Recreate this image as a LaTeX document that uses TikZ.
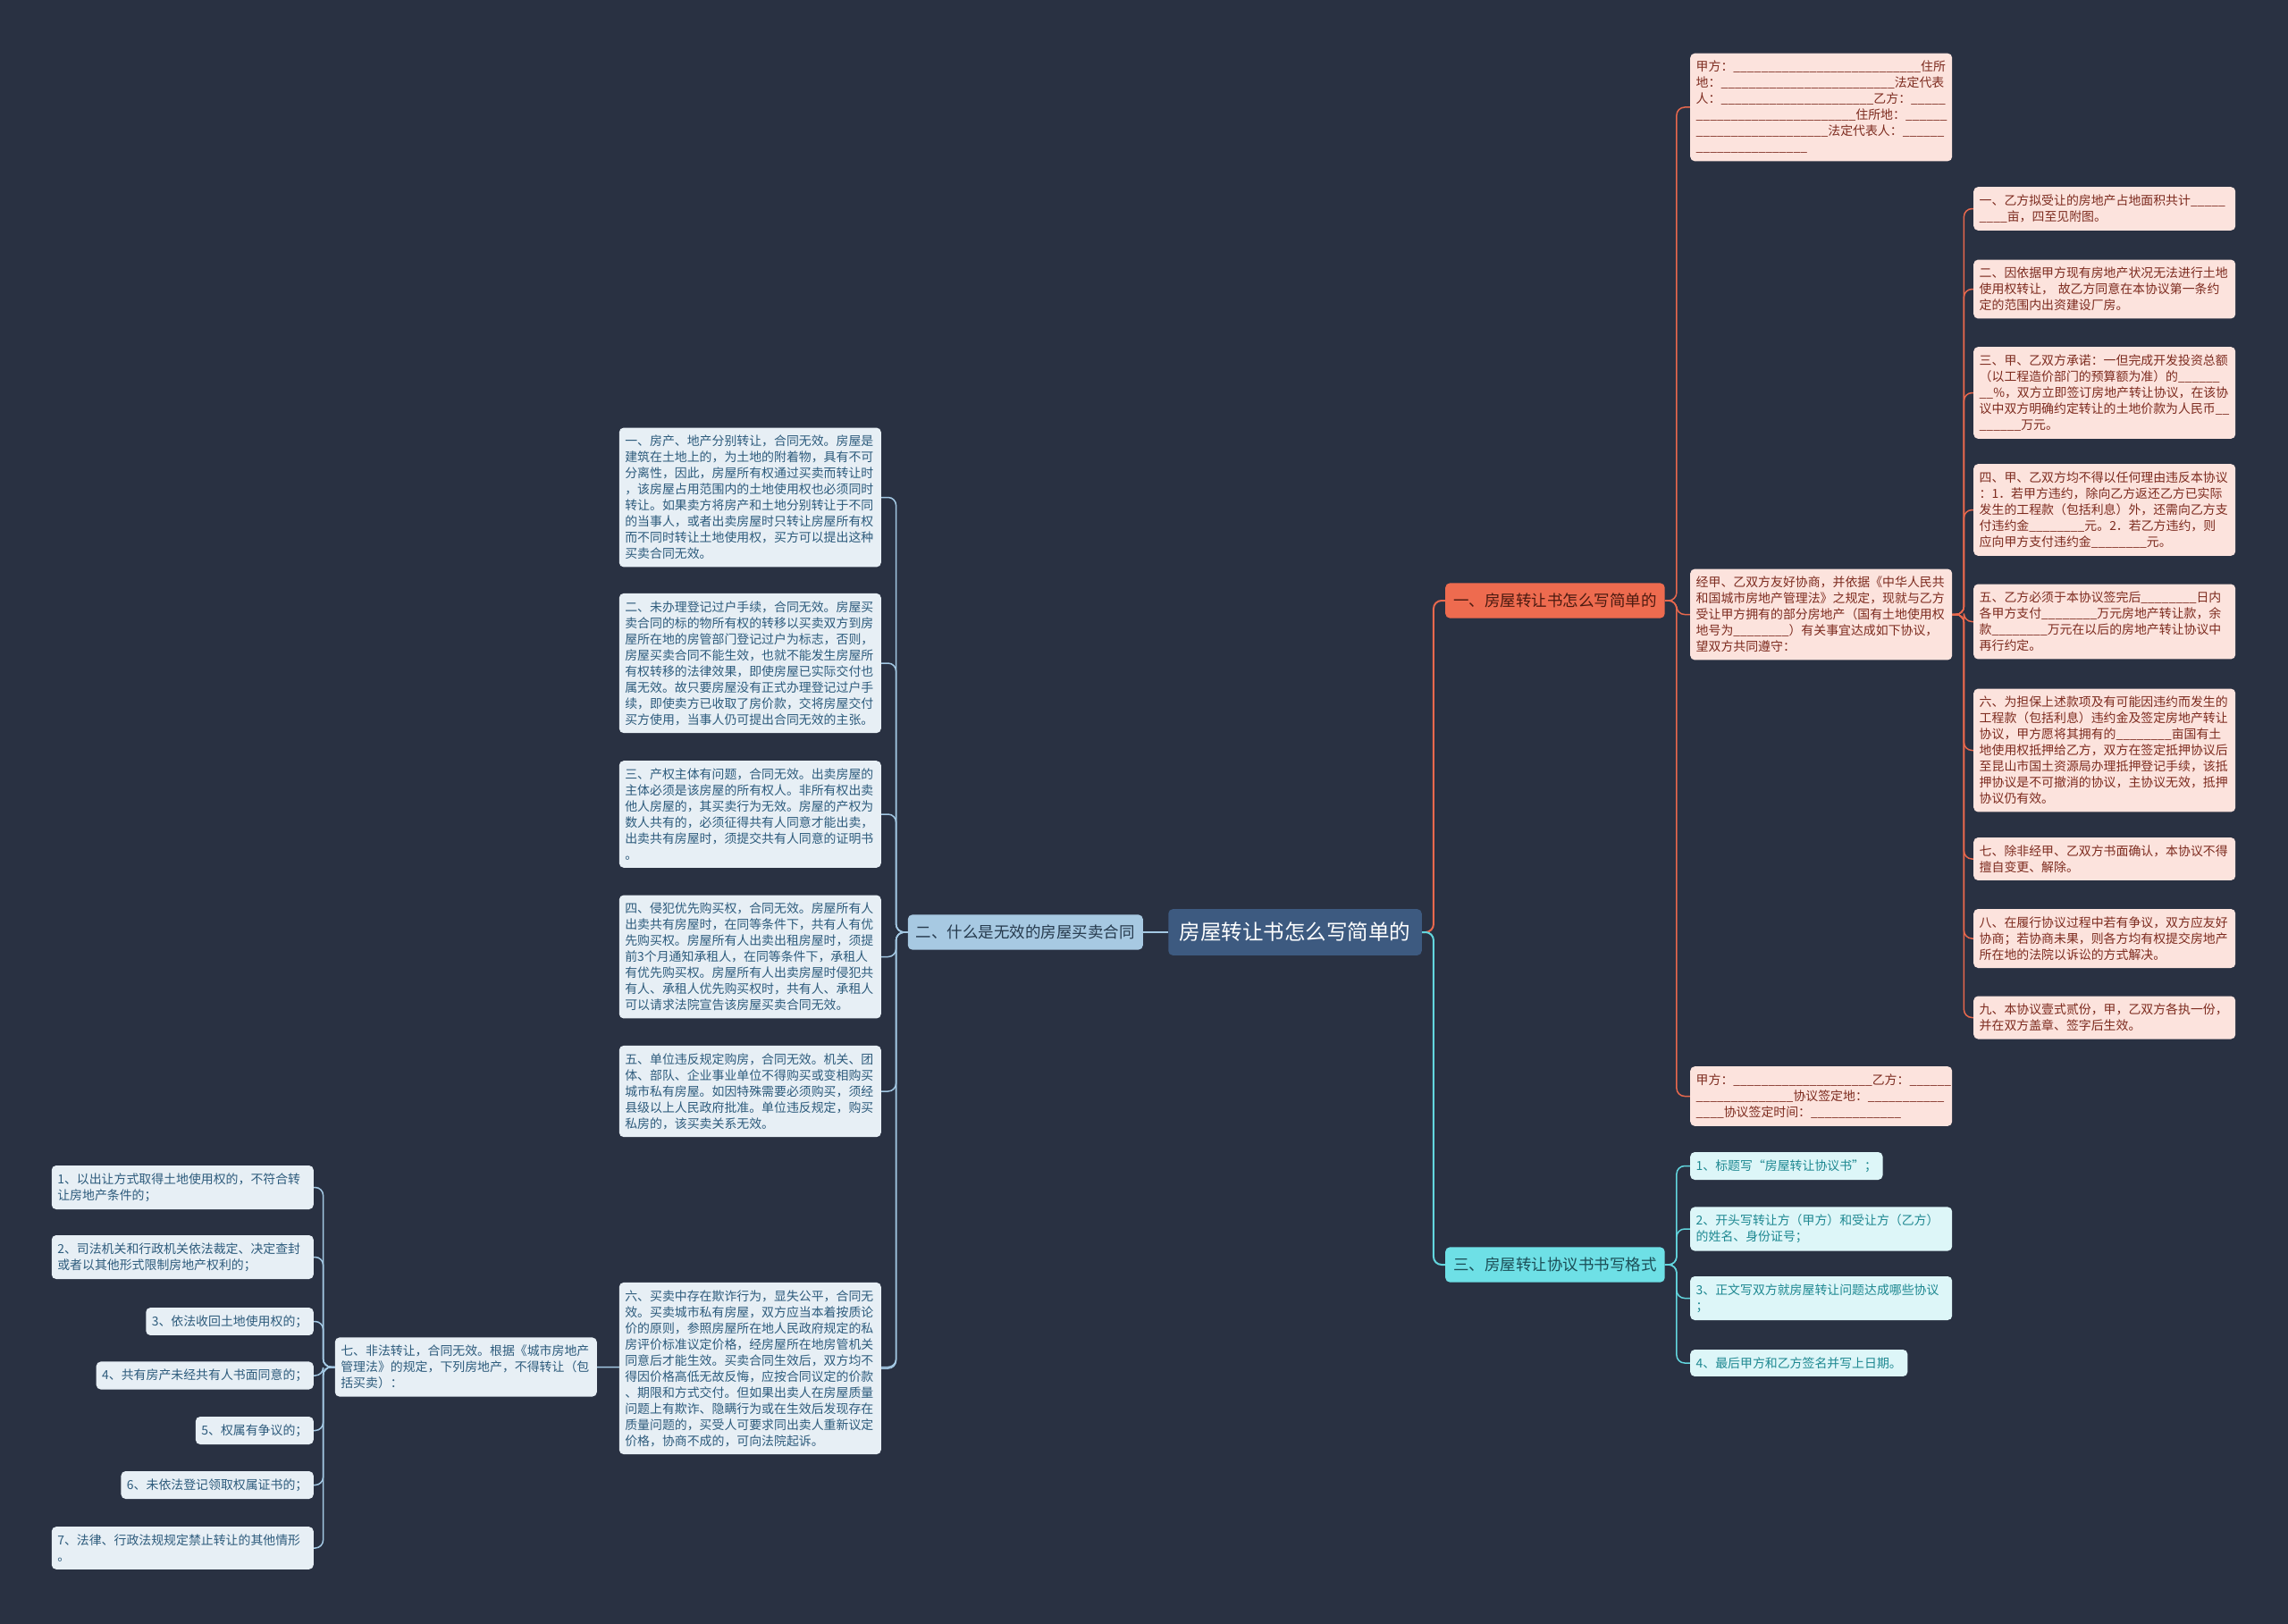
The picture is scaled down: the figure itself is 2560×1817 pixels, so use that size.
\documentclass[tikz,border=0pt]{standalone}
\usepackage{fontspec}
\setmainfont{Noto Sans CJK SC}
\usetikzlibrary{positioning,calc}
\definecolor{bgcol}{HTML}{293142}
\definecolor{rootcol}{HTML}{3D5A80}
\definecolor{redmain}{HTML}{EE6B4F}
\definecolor{redmaintext}{HTML}{4A1A10}
\definecolor{redfill}{HTML}{FCE3DD}
\definecolor{redtext}{HTML}{7D2B1F}
\definecolor{redwire}{HTML}{E8684D}
\definecolor{cyanmain}{HTML}{6EE0E6}
\definecolor{cyanmaintext}{HTML}{1C4E57}
\definecolor{cyanfill}{HTML}{DDF6F8}
\definecolor{cyantext}{HTML}{1E8891}
\definecolor{cyanwire}{HTML}{62D6DE}
\definecolor{bluemain}{HTML}{A7C9E2}
\definecolor{bluemaintext}{HTML}{263A4D}
\definecolor{bluefill}{HTML}{E7EFF5}
\definecolor{bluetext}{HTML}{2D5B7C}
\definecolor{bluewire}{HTML}{A3C8E3}
\pgfdeclarelayer{bg}
\pgfdeclarelayer{wires}
\pgfsetlayers{bg,wires,main}
\ExplSyntaxOn
\cs_new:Npn \blank #1 { \prg_replicate:nn {#1} { \textunderscore } }
\ExplSyntaxOff

\begin{document}
\begin{tikzpicture}[
  x=1pt, y=-1pt,
  rootbox/.style={fill=rootcol, text=white, rounded corners=5pt, font=\fontsize{23.5pt}{28pt}\selectfont, inner xsep=12.5pt, inner ysep=15pt},
  mainbox/.style={rounded corners=5pt, font=\fontsize{17.5pt}{21pt}\selectfont, inner xsep=9pt, inner ysep=11.5pt},
  leaf/.style={rounded corners=5pt, font=\fontsize{13.9pt}{18pt}\selectfont, inner xsep=6.5pt, inner ysep=8.5pt, align=left},
  widebox/.style={text width=280pt},
  redleaf/.style={leaf, fill=redfill, text=redtext},
  cyanleaf/.style={leaf, fill=cyanfill, text=cyantext},
  blueleaf/.style={leaf, fill=bluefill, text=bluetext},
  wire/.style={rounded corners=9pt, line width=1.5pt},
  mainwire/.style={rounded corners=9pt, line width=2pt}
]
\useasboundingbox (0,0) rectangle (2560,1817);
\begin{pgfonlayer}{bg}
\fill[bgcol] (0,0) rectangle (2560,1817);
\end{pgfonlayer}

% centre and main topics
\node[rootbox] (root) at (1449,1043) {房屋转让书怎么写简单的};
\node[mainbox, fill=redmain, text=redmaintext, anchor=west] (s1) at (1617,672) {一、房屋转让书怎么写简单的};
\node[mainbox, fill=bluemain, text=bluemaintext, anchor=east] (s2) at (1279,1043) {二、什么是无效的房屋买卖合同};
\node[mainbox, fill=cyanmain, text=cyanmaintext, anchor=west] (s3) at (1617,1415) {三、房屋转让协议书书写格式};

% branch one
\node[redleaf, widebox, anchor=west] (a1) at (1891,120) {甲方：\blank{27}住所\\地：\blank{25}法定代表\\人：\blank{22}乙方：\blank{5}\\\blank{23}住所地：\blank{6}\\\blank{19}法定代表人：\blank{6}\\\blank{16}};
\node[redleaf, widebox, anchor=west] (a2) at (1891,687.5) {经甲、乙双方友好协商，并依据《中华人民共\\和国城市房地产管理法》之规定，现就与乙方\\受让甲方拥有的部分房地产（国有土地使用权\\地号为\blank{8}）有关事宜达成如下协议，\\望双方共同遵守：};
\node[redleaf, widebox, anchor=west] (a3) at (1891,1226.5) {甲方：\blank{20}乙方：\blank{6}\\\blank{14}协议签定地：\blank{11}\\\blank{4}协议签定时间：\blank{13}};

\node[redleaf, widebox, anchor=west] (b1) at (2208,233.5) {一、乙方拟受让的房地产占地面积共计\blank{5}\\\blank{4}亩，四至见附图。};
\node[redleaf, widebox, anchor=west] (b2) at (2208,323.5) {二、因依据甲方现有房地产状况无法进行土地\\使用权转让， 故乙方同意在本协议第一条约\\定的范围内出资建设厂房。};
\node[redleaf, widebox, anchor=west] (b3) at (2208,439.5) {三、甲、乙双方承诺：一但完成开发投资总额\\（以工程造价部门的预算额为准）的\blank{6}\\\blank{2}\%，双方立即签订房地产转让协议，在该协\\议中双方明确约定转让的土地价款为人民币\blank{2}\\\blank{6}万元。};
\node[redleaf, widebox, anchor=west] (b4) at (2208,570.5) {四、甲、乙双方均不得以任何理由违反本协议\\：1．若甲方违约，除向乙方返还乙方已实际\\发生的工程款（包括利息）外，还需向乙方支\\付违约金\blank{8}元。2．若乙方违约，则\\应向甲方支付违约金\blank{8}元。};
\node[redleaf, widebox, anchor=west] (b5) at (2208,695.5) {五、乙方必须于本协议签完后\blank{8}日内\\各甲方支付\blank{8}万元房地产转让款，余\\款\blank{8}万元在以后的房地产转让协议中\\再行约定。};
\node[redleaf, widebox, anchor=west] (b6) at (2208,839.5) {六、为担保上述款项及有可能因违约而发生的\\工程款（包括利息）违约金及签定房地产转让\\协议，甲方愿将其拥有的\blank{8}亩国有土\\地使用权抵押给乙方，双方在签定抵押协议后\\至昆山市国土资源局办理抵押登记手续，该抵\\押协议是不可撤消的协议，主协议无效，抵押\\协议仍有效。};
\node[redleaf, widebox, anchor=west] (b7) at (2208,961) {七、除非经甲、乙双方书面确认，本协议不得\\擅自变更、解除。};
\node[redleaf, widebox, anchor=west] (b8) at (2208,1050) {八、在履行协议过程中若有争议，双方应友好\\协商；若协商未果，则各方均有权提交房地产\\所在地的法院以诉讼的方式解决。};
\node[redleaf, widebox, anchor=west] (b9) at (2208,1138.5) {九、本协议壹式贰份，甲，乙双方各执一份，\\并在双方盖章、签字后生效。};

% branch three
\node[cyanleaf, anchor=west] (c1) at (1891,1304.5) {1、标题写“房屋转让协议书”；};
\node[cyanleaf, widebox, anchor=west] (c2) at (1891,1375) {2、开头写转让方（甲方）和受让方（乙方）\\的姓名、身份证号；};
\node[cyanleaf, widebox, anchor=west] (c3) at (1891,1452.5) {3、正文写双方就房屋转让问题达成哪些协议\\；};
\node[cyanleaf, anchor=west] (c4) at (1891,1525) {4、最后甲方和乙方签名并写上日期。};

% branch two
\node[blueleaf, widebox, anchor=east] (l1) at (986,556.5) {一、房产、地产分别转让，合同无效。房屋是\\建筑在土地上的，为土地的附着物，具有不可\\分离性，因此，房屋所有权通过买卖而转让时\\，该房屋占用范围内的土地使用权也必须同时\\转让。如果卖方将房产和土地分别转让于不同\\的当事人，或者出卖房屋时只转让房屋所有权\\而不同时转让土地使用权，买方可以提出这种\\买卖合同无效。};
\node[blueleaf, widebox, anchor=east] (l2) at (986,742) {二、未办理登记过户手续，合同无效。房屋买\\卖合同的标的物所有权的转移以买卖双方到房\\屋所在地的房管部门登记过户为标志，否则，\\房屋买卖合同不能生效，也就不能发生房屋所\\有权转移的法律效果，即使房屋已实际交付也\\属无效。故只要房屋没有正式办理登记过户手\\续，即使卖方已收取了房价款，交将房屋交付\\买方使用，当事人仍可提出合同无效的主张。};
\node[blueleaf, widebox, anchor=east] (l3) at (986,911) {三、产权主体有问题，合同无效。出卖房屋的\\主体必须是该房屋的所有权人。非所有权出卖\\他人房屋的，其买卖行为无效。房屋的产权为\\数人共有的，必须征得共有人同意才能出卖，\\出卖共有房屋时，须提交共有人同意的证明书\\。};
\node[blueleaf, widebox, anchor=east] (l4) at (986,1070.5) {四、侵犯优先购买权，合同无效。房屋所有人\\出卖共有房屋时，在同等条件下，共有人有优\\先购买权。房屋所有人出卖出租房屋时，须提\\前3个月通知承租人，在同等条件下，承租人\\有优先购买权。房屋所有人出卖房屋时侵犯共\\有人、承租人优先购买权时，共有人、承租人\\可以请求法院宣告该房屋买卖合同无效。};
\node[blueleaf, widebox, anchor=east] (l5) at (986,1221) {五、单位违反规定购房，合同无效。机关、团\\体、部队、企业事业单位不得购买或变相购买\\城市私有房屋。如因特殊需要必须购买，须经\\县级以上人民政府批准。单位违反规定，购买\\私房的，该买卖关系无效。};
\node[blueleaf, widebox, anchor=east] (l6) at (986,1531) {六、买卖中存在欺诈行为，显失公平，合同无\\效。买卖城市私有房屋，双方应当本着按质论\\价的原则，参照房屋所在地人民政府规定的私\\房评价标准议定价格，经房屋所在地房管机关\\同意后才能生效。买卖合同生效后，双方均不\\得因价格高低无故反悔，应按合同议定的价款\\、期限和方式交付。但如果出卖人在房屋质量\\问题上有欺诈、隐瞒行为或在生效后发现存在\\质量问题的，买受人可要求同出卖人重新议定\\价格，协商不成的，可向法院起诉。};
\node[blueleaf, widebox, anchor=east] (l7) at (668,1529.5) {七、非法转让，合同无效。根据《城市房地产\\管理法》的规定，下列房地产，不得转让（包\\括买卖）：};

\node[blueleaf, widebox, anchor=east] (m1) at (351,1328.5) {1、以出让方式取得土地使用权的，不符合转\\让房地产条件的；};
\node[blueleaf, widebox, anchor=east] (m2) at (351,1406.5) {2、司法机关和行政机关依法裁定、决定查封\\或者以其他形式限制房地产权利的；};
\node[blueleaf, anchor=east] (m3) at (351,1478.5) {3、依法收回土地使用权的；};
\node[blueleaf, anchor=east] (m4) at (351,1539) {4、共有房产未经共有人书面同意的；};
\node[blueleaf, anchor=east] (m5) at (351,1600.5) {5、权属有争议的；};
\node[blueleaf, anchor=east] (m6) at (351,1661.5) {6、未依法登记领取权属证书的；};
\node[blueleaf, widebox, anchor=east] (m7) at (351,1732) {7、法律、行政法规规定禁止转让的其他情形\\。};

% connectors
\begin{pgfonlayer}{wires}
\draw[mainwire, redwire] (root.east) -- ++(13,0) |- (s1.west);
\draw[mainwire, cyanwire] (root.east) -- ++(13,0) |- (s3.west);
\draw[mainwire, bluewire] (root.west) -- (s2.east);
\foreach \n in {a1,a2,a3}
  \draw[wire, redwire] (s1.east) -- ++(13,0) |- (\n.west);
\foreach \n in {b1,b2,b3,b4,b5,b6,b7,b8,b9}
  \draw[wire, redwire] (a2.east) -- ++(13,0) |- (\n.west);
\foreach \n in {c1,c2,c3,c4}
  \draw[wire, cyanwire] (s3.east) -- ++(13,0) |- (\n.west);
\foreach \n in {l1,l2,l3,l4,l5,l6,l7}
  \draw[wire, bluewire] (s2.west) -- ++(-13,0) |- (\n.east);
\foreach \n in {m1,m2,m3,m4,m5,m6,m7}
  \draw[wire, bluewire] (l7.west) -- ++(-13,0) |- (\n.east);
\end{pgfonlayer}
\end{tikzpicture}
\end{document}
